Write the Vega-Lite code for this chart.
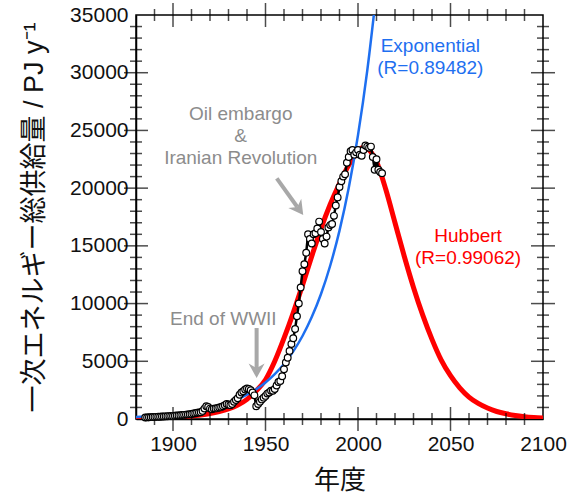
{
  "$schema": "https://vega.github.io/schema/vega-lite/v6.json",
  "width": 407,
  "height": 404,
  "autosize": {"type": "none"},
  "padding": {"left": 136, "top": 15, "right": 28, "bottom": 76},
  "background": "white",
  "config": {
    "view": {"stroke": "#000000", "strokeWidth": 1.5},
    "axis": {
      "grid": false,
      "domainColor": "#000000",
      "domainWidth": 1.5,
      "labelFont": "Liberation Sans",
      "labelFontSize": 21,
      "labelColor": "#111111",
      "labelFlush": false,
      "labelOverlap": false
    }
  },
  "datasets": {
    "hubbert": [
      {"year": 1880, "value": 40}, {"year": 1885, "value": 60}, {"year": 1890, "value": 80}, {"year": 1895, "value": 110},
      {"year": 1900, "value": 150}, {"year": 1905, "value": 200}, {"year": 1910, "value": 260}, {"year": 1915, "value": 350},
      {"year": 1920, "value": 470}, {"year": 1925, "value": 640}, {"year": 1930, "value": 870}, {"year": 1935, "value": 1200},
      {"year": 1940, "value": 1700}, {"year": 1945, "value": 2450}, {"year": 1950, "value": 3400}, {"year": 1955, "value": 5000},
      {"year": 1960, "value": 7000}, {"year": 1965, "value": 9200}, {"year": 1970, "value": 11600}, {"year": 1975, "value": 14100},
      {"year": 1980, "value": 16500}, {"year": 1985, "value": 18600}, {"year": 1990, "value": 20400}, {"year": 1995, "value": 22000},
      {"year": 2000, "value": 23200}, {"year": 2003, "value": 23550}, {"year": 2005, "value": 23450}, {"year": 2010, "value": 22300},
      {"year": 2015, "value": 19900}, {"year": 2020, "value": 17000}, {"year": 2025, "value": 14100}, {"year": 2030, "value": 11400},
      {"year": 2035, "value": 9000}, {"year": 2040, "value": 6900}, {"year": 2045, "value": 5100}, {"year": 2050, "value": 3750},
      {"year": 2055, "value": 2700}, {"year": 2060, "value": 1900}, {"year": 2065, "value": 1350}, {"year": 2070, "value": 950},
      {"year": 2075, "value": 650}, {"year": 2080, "value": 450}, {"year": 2085, "value": 300}, {"year": 2090, "value": 200},
      {"year": 2095, "value": 130}, {"year": 2100, "value": 80}
    ],
    "expo": [
      {"year": 1880, "value": 180}, {"year": 1885, "value": 220}, {"year": 1890, "value": 270}, {"year": 1895, "value": 330},
      {"year": 1900, "value": 410}, {"year": 1905, "value": 500}, {"year": 1910, "value": 610}, {"year": 1915, "value": 760},
      {"year": 1920, "value": 925}, {"year": 1925, "value": 1140}, {"year": 1930, "value": 1390}, {"year": 1935, "value": 1710},
      {"year": 1940, "value": 2100}, {"year": 1945, "value": 2580}, {"year": 1950, "value": 3170}, {"year": 1955, "value": 3890},
      {"year": 1960, "value": 4770}, {"year": 1965, "value": 5860}, {"year": 1970, "value": 7190}, {"year": 1975, "value": 8830},
      {"year": 1980, "value": 10830}, {"year": 1985, "value": 13300}, {"year": 1990, "value": 16320}, {"year": 1995, "value": 20030},
      {"year": 2000, "value": 24590}, {"year": 2005, "value": 30180}, {"year": 2010, "value": 37050}
    ],
    "energy": [
      {"year": 1885, "value": 130}, {"year": 1886, "value": 140}, {"year": 1887, "value": 150}, {"year": 1888, "value": 160},
      {"year": 1889, "value": 170}, {"year": 1890, "value": 180}, {"year": 1891, "value": 185}, {"year": 1892, "value": 190},
      {"year": 1893, "value": 200}, {"year": 1894, "value": 210}, {"year": 1895, "value": 220}, {"year": 1896, "value": 230},
      {"year": 1897, "value": 240}, {"year": 1898, "value": 250}, {"year": 1899, "value": 260}, {"year": 1900, "value": 270},
      {"year": 1901, "value": 290}, {"year": 1902, "value": 300}, {"year": 1903, "value": 310}, {"year": 1904, "value": 320},
      {"year": 1905, "value": 340}, {"year": 1906, "value": 360}, {"year": 1907, "value": 380}, {"year": 1908, "value": 400},
      {"year": 1909, "value": 420}, {"year": 1910, "value": 440}, {"year": 1911, "value": 470}, {"year": 1912, "value": 500},
      {"year": 1913, "value": 540}, {"year": 1914, "value": 560}, {"year": 1915, "value": 580}, {"year": 1916, "value": 700},
      {"year": 1917, "value": 900}, {"year": 1918, "value": 1100}, {"year": 1919, "value": 1050}, {"year": 1920, "value": 900},
      {"year": 1921, "value": 850}, {"year": 1922, "value": 900}, {"year": 1923, "value": 920}, {"year": 1924, "value": 960},
      {"year": 1925, "value": 1000}, {"year": 1926, "value": 1050}, {"year": 1927, "value": 1100}, {"year": 1928, "value": 1200},
      {"year": 1929, "value": 1300}, {"year": 1930, "value": 1250}, {"year": 1931, "value": 1200}, {"year": 1932, "value": 1300},
      {"year": 1933, "value": 1500}, {"year": 1934, "value": 1650}, {"year": 1935, "value": 1800}, {"year": 1936, "value": 2100},
      {"year": 1937, "value": 2300}, {"year": 1938, "value": 2400}, {"year": 1939, "value": 2550}, {"year": 1940, "value": 2650},
      {"year": 1941, "value": 2600}, {"year": 1942, "value": 2500}, {"year": 1943, "value": 2300}, {"year": 1944, "value": 2050},
      {"year": 1945, "value": 1100}, {"year": 1946, "value": 1300}, {"year": 1947, "value": 1500}, {"year": 1948, "value": 1700},
      {"year": 1949, "value": 1850}, {"year": 1950, "value": 2000}, {"year": 1951, "value": 2200}, {"year": 1952, "value": 2300},
      {"year": 1953, "value": 2450}, {"year": 1954, "value": 2450}, {"year": 1955, "value": 2600}, {"year": 1956, "value": 2900},
      {"year": 1957, "value": 3200}, {"year": 1958, "value": 3300}, {"year": 1959, "value": 3700}, {"year": 1960, "value": 4300},
      {"year": 1961, "value": 4900}, {"year": 1962, "value": 5300}, {"year": 1963, "value": 5900}, {"year": 1964, "value": 6500},
      {"year": 1965, "value": 7000}, {"year": 1966, "value": 7800}, {"year": 1967, "value": 8900}, {"year": 1968, "value": 10000},
      {"year": 1969, "value": 11400}, {"year": 1970, "value": 12800}, {"year": 1971, "value": 13400}, {"year": 1972, "value": 14400},
      {"year": 1973, "value": 16000}, {"year": 1974, "value": 15600}, {"year": 1975, "value": 15200}, {"year": 1976, "value": 16000},
      {"year": 1977, "value": 16100}, {"year": 1978, "value": 16500}, {"year": 1979, "value": 17100}, {"year": 1980, "value": 16200},
      {"year": 1981, "value": 15600}, {"year": 1982, "value": 15200}, {"year": 1983, "value": 15800}, {"year": 1984, "value": 16600},
      {"year": 1985, "value": 16800}, {"year": 1986, "value": 16900}, {"year": 1987, "value": 17600}, {"year": 1988, "value": 18500},
      {"year": 1989, "value": 19200}, {"year": 1990, "value": 20100}, {"year": 1991, "value": 20600}, {"year": 1992, "value": 21000},
      {"year": 1993, "value": 21200}, {"year": 1994, "value": 22200}, {"year": 1995, "value": 22700}, {"year": 1996, "value": 23200},
      {"year": 1997, "value": 23300}, {"year": 1998, "value": 22900}, {"year": 1999, "value": 23100}, {"year": 2000, "value": 23300},
      {"year": 2001, "value": 22900}, {"year": 2002, "value": 22800}, {"year": 2003, "value": 23300}, {"year": 2004, "value": 23700},
      {"year": 2005, "value": 23600}, {"year": 2006, "value": 23500}, {"year": 2007, "value": 23600}, {"year": 2008, "value": 22700},
      {"year": 2009, "value": 21600}, {"year": 2010, "value": 22500}, {"year": 2011, "value": 21600}, {"year": 2012, "value": 21400},
      {"year": 2013, "value": 21300}
    ],
    "notes": [
      {"label": "Oil embargo", "year": 1936.6, "value": 25890, "refers": "annotation"},
      {"label": "&", "year": 1936.6, "value": 23990, "refers": "annotation"},
      {"label": "Iranian Revolution", "year": 1936.6, "value": 22080, "refers": "annotation"},
      {"label": "End of WWII", "year": 1927.2, "value": 8140, "refers": "annotation"},
      {"label": "Exponential", "year": 2039.1, "value": 31760, "refers": "exponential"},
      {"label": "(R=0.89482)", "year": 2039.1, "value": 29880, "refers": "exponential"},
      {"label": "Hubbert", "year": 2059.5, "value": 15350, "refers": "hubbert"},
      {"label": "(R=0.99062)", "year": 2059.5, "value": 13420, "refers": "hubbert"}
    ],
    "arrows": [
      {"event": "oil", "year": 1956.1, "value": 20840, "year2": 1967.2, "value2": 18370, "tipYear": 1970.4, "tipValue": 17670},
      {"event": "wwii", "year": 1945.2, "value": 7880, "year2": 1945.2, "value2": 4300, "tipYear": 1945.2, "tipValue": 3550}
    ],
    "xMajor": [{"year": 1900}, {"year": 1950}, {"year": 2000}, {"year": 2050}],
    "xMinor": [
      {"year": 1890}, {"year": 1910}, {"year": 1920}, {"year": 1930}, {"year": 1940}, {"year": 1960}, {"year": 1970},
      {"year": 1980}, {"year": 1990}, {"year": 2010}, {"year": 2020}, {"year": 2030}, {"year": 2040}, {"year": 2060},
      {"year": 2070}, {"year": 2080}, {"year": 2090}
    ],
    "yMajor": [{"value": 5000}, {"value": 10000}, {"value": 15000}, {"value": 20000}, {"value": 25000}, {"value": 30000}],
    "yMinor": [
      {"value": 1000}, {"value": 2000}, {"value": 3000}, {"value": 4000}, {"value": 6000}, {"value": 7000}, {"value": 8000},
      {"value": 9000}, {"value": 11000}, {"value": 12000}, {"value": 13000}, {"value": 14000}, {"value": 16000}, {"value": 17000},
      {"value": 18000}, {"value": 19000}, {"value": 21000}, {"value": 22000}, {"value": 23000}, {"value": 24000}, {"value": 26000},
      {"value": 27000}, {"value": 28000}, {"value": 29000}, {"value": 31000}, {"value": 32000}, {"value": 33000}, {"value": 34000}
    ]
  },
  "layer": [
    {
      "data": {"name": "hubbert"},
      "mark": {"type": "line", "color": "#ff0000", "strokeWidth": 5, "interpolate": "monotone", "clip": true},
      "encoding": {
        "x": {"field": "year", "type": "quantitative", "scale": {"domain": [1880, 2100], "nice": false, "zero": false},
          "axis": {"orient": "bottom", "values": [1900, 1950, 2000, 2050, 2100], "format": "d", "ticks": false, "labelPadding": 14, "domain": true,
            "title": "年度", "titleFont": "Noto Sans CJK JP", "titleFontSize": 26, "titleFontWeight": "normal", "titleColor": "#111111", "titlePadding": 13}},
        "y": {"field": "value", "type": "quantitative", "scale": {"domain": [0, 35000], "nice": false, "zero": true},
          "axis": {"orient": "left", "values": [0, 5000, 10000, 15000, 20000, 25000, 30000, 35000], "format": "d", "ticks": false, "labelPadding": 8, "domain": true,
            "title": "一次エネルギー総供給量 / PJ y⁻¹", "titleFont": "Liberation Sans, Noto Sans CJK JP", "titleFontSize": 27, "titleFontWeight": "normal", "titleColor": "#111111", "titlePadding": 21}}
      }
    },
    {
      "data": {"name": "xMajor"},
      "mark": {"type": "tick", "orient": "vertical", "color": "#000000", "thickness": 1.5, "size": 24},
      "encoding": {
        "x": {"field": "year", "type": "quantitative"},
        "y": {"datum": 0, "type": "quantitative"}
      }
    },
    {
      "data": {"name": "xMajor"},
      "mark": {"type": "tick", "orient": "vertical", "color": "#000000", "thickness": 1.5, "size": 24},
      "encoding": {
        "x": {"field": "year", "type": "quantitative"},
        "y": {"datum": 35000, "type": "quantitative"}
      }
    },
    {
      "data": {"name": "xMinor"},
      "mark": {"type": "tick", "orient": "vertical", "color": "#000000", "thickness": 1.5, "size": 12},
      "encoding": {
        "x": {"field": "year", "type": "quantitative"},
        "y": {"datum": 0, "type": "quantitative"}
      }
    },
    {
      "data": {"name": "xMinor"},
      "mark": {"type": "tick", "orient": "vertical", "color": "#000000", "thickness": 1.5, "size": 12},
      "encoding": {
        "x": {"field": "year", "type": "quantitative"},
        "y": {"datum": 35000, "type": "quantitative"}
      }
    },
    {
      "data": {"name": "yMajor"},
      "mark": {"type": "tick", "orient": "horizontal", "color": "#000000", "thickness": 1.5, "size": 24},
      "encoding": {
        "y": {"field": "value", "type": "quantitative"},
        "x": {"datum": 1880, "type": "quantitative"}
      }
    },
    {
      "data": {"name": "yMajor"},
      "mark": {"type": "tick", "orient": "horizontal", "color": "#000000", "thickness": 1.5, "size": 24},
      "encoding": {
        "y": {"field": "value", "type": "quantitative"},
        "x": {"datum": 2100, "type": "quantitative"}
      }
    },
    {
      "data": {"name": "yMinor"},
      "mark": {"type": "tick", "orient": "horizontal", "color": "#000000", "thickness": 1.5, "size": 12},
      "encoding": {
        "y": {"field": "value", "type": "quantitative"},
        "x": {"datum": 1880, "type": "quantitative"}
      }
    },
    {
      "data": {"name": "yMinor"},
      "mark": {"type": "tick", "orient": "horizontal", "color": "#000000", "thickness": 1.5, "size": 12},
      "encoding": {
        "y": {"field": "value", "type": "quantitative"},
        "x": {"datum": 2100, "type": "quantitative"}
      }
    },
    {
      "data": {"name": "expo"},
      "mark": {"type": "line", "color": "#1e6ff0", "strokeWidth": 2.5, "interpolate": "monotone", "clip": true},
      "encoding": {
        "x": {"field": "year", "type": "quantitative"},
        "y": {"field": "value", "type": "quantitative"}
      }
    },
    {
      "data": {"name": "energy"},
      "mark": {"type": "line", "color": "#000000", "strokeWidth": 2.5, "clip": true},
      "encoding": {
        "x": {"field": "year", "type": "quantitative"},
        "y": {"field": "value", "type": "quantitative"}
      }
    },
    {
      "data": {"name": "energy"},
      "mark": {"type": "point", "shape": "circle", "filled": true, "fill": "#ffffff", "stroke": "#000000", "strokeWidth": 1.2, "size": 45, "opacity": 1},
      "encoding": {
        "x": {"field": "year", "type": "quantitative"},
        "y": {"field": "value", "type": "quantitative"}
      }
    },
    {
      "data": {"name": "notes"},
      "mark": {"type": "text", "font": "Liberation Sans", "fontSize": 19, "align": "center", "baseline": "alphabetic"},
      "encoding": {
        "x": {"field": "year", "type": "quantitative"},
        "y": {"field": "value", "type": "quantitative"},
        "text": {"field": "label"},
        "color": {"field": "refers", "type": "nominal", "scale": {"domain": ["annotation", "exponential", "hubbert"], "range": ["#8c8c8c", "#1e6ff0", "#ff0000"]}, "legend": null}
      }
    },
    {
      "data": {"name": "arrows"},
      "mark": {"type": "rule", "color": "#a8a8a8", "strokeWidth": 4},
      "encoding": {
        "x": {"field": "year", "type": "quantitative"},
        "y": {"field": "value", "type": "quantitative"},
        "x2": {"field": "year2"},
        "y2": {"field": "value2"}
      }
    },
    {
      "data": {"name": "arrows"},
      "transform": [{"filter": "datum.event === 'oil'"}],
      "mark": {"type": "point", "shape": "M0,0 L-1,-1.8 L0,-1.25 L1,-1.8 Z", "filled": true, "color": "#a8a8a8", "size": 256, "opacity": 1, "angle": -36},
      "encoding": {
        "x": {"field": "tipYear", "type": "quantitative"},
        "y": {"field": "tipValue", "type": "quantitative"}
      }
    },
    {
      "data": {"name": "arrows"},
      "transform": [{"filter": "datum.event === 'wwii'"}],
      "mark": {"type": "point", "shape": "M0,0 L-1,-1.8 L0,-1.25 L1,-1.8 Z", "filled": true, "color": "#a8a8a8", "size": 256, "opacity": 1, "angle": 0},
      "encoding": {
        "x": {"field": "tipYear", "type": "quantitative"},
        "y": {"field": "tipValue", "type": "quantitative"}
      }
    }
  ]
}
